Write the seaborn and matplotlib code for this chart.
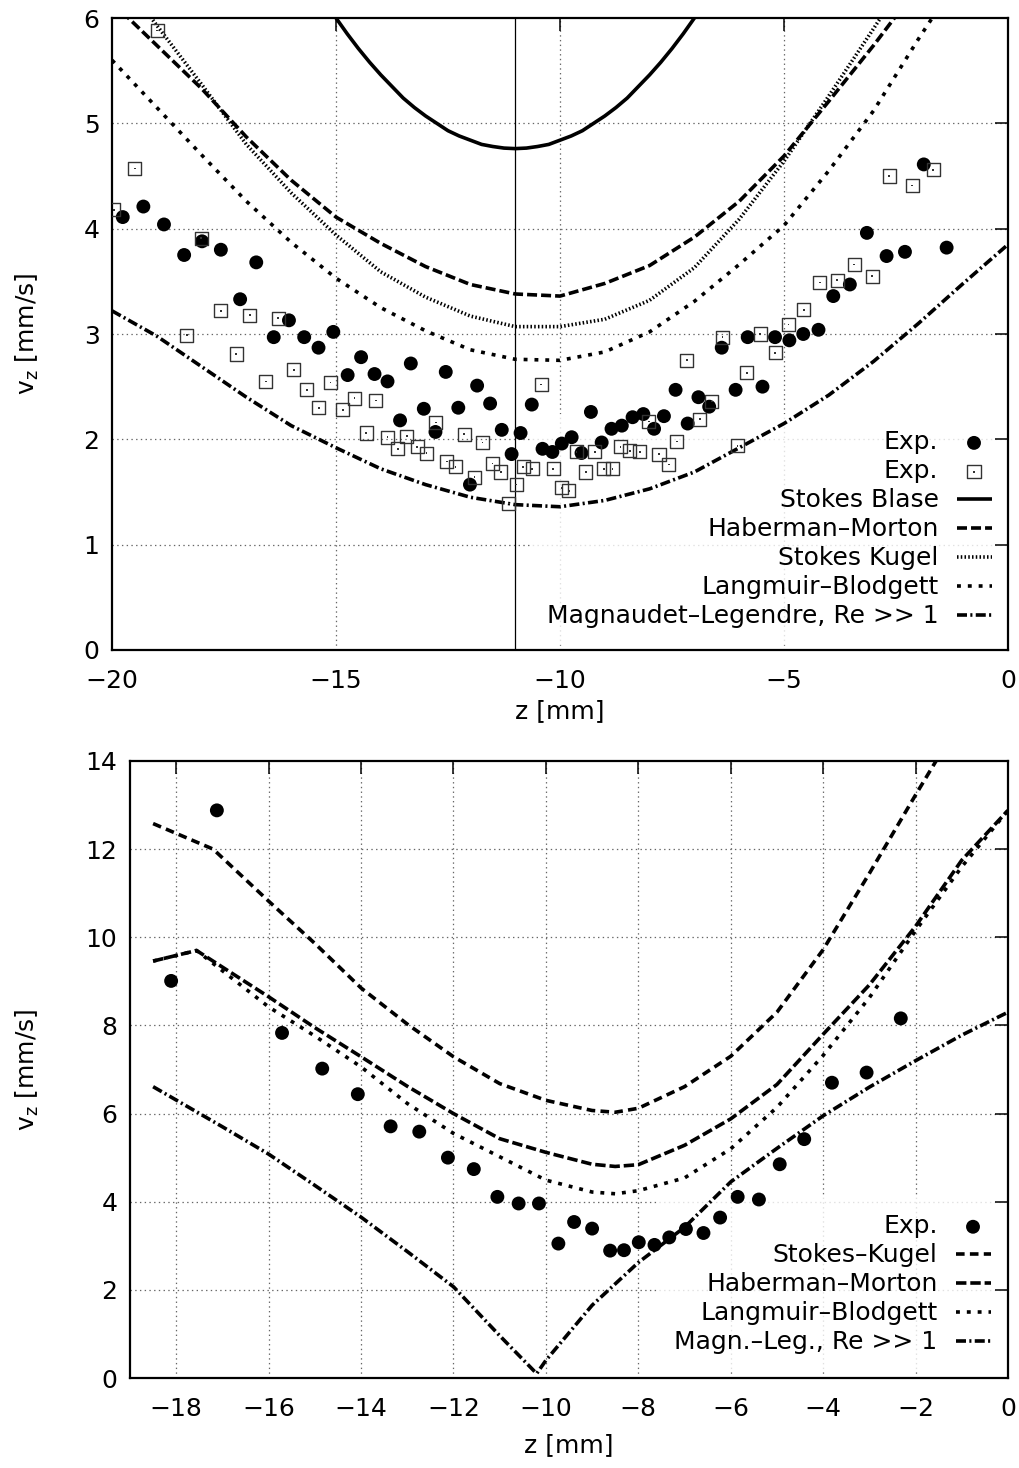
import matplotlib
matplotlib.use("Agg")
import matplotlib.pyplot as plt
import seaborn as sns

# ---------------- top panel data ----------------
top_circ_z = [-19.76, -19.30, -18.84, -18.39, -17.99, -17.57, -16.78, -17.14, -16.05, -15.06,
              -16.39, -15.71, -15.39, -14.44, -14.74, -14.14, -13.85, -13.33, -12.55, -11.85,
              -11.56, -10.63, -13.57, -13.04, -12.27, -12.78, -11.30, -10.88, -11.08, -12.01,
              -10.39, -10.17, -9.96, -9.74, -9.52, -9.31, -9.07, -8.85, -8.62, -8.38,
              -8.14, -7.90, -7.68, -7.42, -7.15, -6.91, -6.67, -6.39, -6.08, -5.81,
              -5.48, -5.20, -4.88, -4.57, -4.23, -3.90, -3.53, -3.15, -2.71, -2.30,
              -1.88, -1.37]
top_circ_v = [4.11, 4.21, 4.04, 3.75, 3.88, 3.80, 3.68, 3.33, 3.13, 3.02,
              2.97, 2.97, 2.87, 2.78, 2.61, 2.62, 2.55, 2.72, 2.64, 2.51,
              2.34, 2.33, 2.18, 2.29, 2.30, 2.07, 2.09, 2.06, 1.86, 1.57,
              1.91, 1.88, 1.96, 2.02, 1.87, 2.26, 1.97, 2.10, 2.13, 2.21,
              2.24, 2.10, 2.22, 2.47, 2.15, 2.40, 2.31, 2.87, 2.47, 2.97,
              2.50, 2.97, 2.94, 3.00, 3.04, 3.36, 3.47, 3.96, 3.74, 3.78,
              4.61, 3.82]

top_sq_z = [-18.99, -19.49, -19.96, -18.01, -17.57, -16.92, -16.29, -18.33, -17.23, -15.94,
            -16.57, -15.65, -15.12, -15.38, -14.85, -14.59, -14.11, -12.77, -14.33, -13.85,
            -13.62, -13.42, -13.19, -12.98, -12.53, -12.33, -12.14, -11.73, -11.91, -11.51,
            -11.32, -10.82, -10.62, -10.98, -11.14, -10.42, -10.15, -9.96, -9.80, -9.63,
            -9.42, -9.22, -9.02, -8.83, -8.65, -8.44, -8.22, -8.02, -7.79, -7.57,
            -7.39, -7.17, -6.88, -6.61, -6.37, -6.04, -5.83, -5.53, -5.20, -4.90,
            -4.56, -4.20, -3.81, -3.43, -3.03, -2.65, -2.14, -1.67]
top_sq_v = [5.88, 4.57, 4.18, 3.91, 3.22, 3.18, 3.15, 2.99, 2.81, 2.66,
            2.55, 2.47, 2.54, 2.30, 2.28, 2.39, 2.37, 2.16, 2.06, 2.02,
            1.91, 2.03, 1.93, 1.87, 1.79, 1.74, 2.05, 1.97, 1.64, 1.77,
            1.69, 1.74, 1.72, 1.57, 1.39, 2.52, 1.72, 1.54, 1.51, 1.88,
            1.69, 1.88, 1.72, 1.72, 1.93, 1.89, 1.88, 2.17, 1.86, 1.76,
            1.98, 2.75, 2.19, 2.36, 2.97, 1.94, 2.63, 3.00, 2.82, 3.09,
            3.23, 3.49, 3.51, 3.66, 3.55, 4.50, 4.41, 4.56]

top_curve_z = [-20, -19, -18, -17, -16, -15, -14, -13, -12, -11, -10,
               -9, -8, -7, -6, -5, -4, -3, -2, -1, 0]
top_hm_v = [6.15, 5.74, 5.33, 4.87, 4.46, 4.11, 3.86, 3.64, 3.47, 3.38, 3.36,
            3.48, 3.65, 3.92, 4.26, 4.69, 5.21, 5.74, 6.30, 6.90, 7.50]
top_sk_v = [6.50, 5.93, 5.37, 4.80, 4.34, 3.94, 3.59, 3.35, 3.17, 3.07, 3.07,
            3.14, 3.32, 3.63, 4.09, 4.64, 5.26, 5.90, 6.55, 7.20, 7.90]
top_lb_v = [5.60, 5.15, 4.70, 4.26, 3.87, 3.53, 3.25, 3.03, 2.85, 2.76, 2.75,
            2.83, 3.02, 3.31, 3.66, 4.03, 4.55, 5.12, 5.80, 6.45, 7.10]
top_ml_v = [3.22, 2.98, 2.69, 2.40, 2.13, 1.92, 1.72, 1.57, 1.45, 1.38, 1.36,
            1.42, 1.53, 1.69, 1.92, 2.15, 2.42, 2.74, 3.10, 3.48, 3.85]
top_sb_z = [-15.5, -15.25, -15, -14.75, -14.5, -14.25, -14, -13.75, -13.5, -13.25,
            -13, -12.75, -12.5, -12.25, -12, -11.75, -11.5, -11.25, -11,
            -10.75, -10.5, -10.25, -10, -9.75, -9.5, -9.25, -9, -8.75, -8.5,
            -8.25, -8, -7.75, -7.5, -7.25, -7, -6.75, -6.5]
top_sb_v = [6.33, 6.16, 6.00, 5.85, 5.71, 5.58, 5.46, 5.35, 5.24, 5.15,
            5.07, 5.00, 4.93, 4.88, 4.84, 4.80, 4.78, 4.765, 4.76,
            4.765, 4.78, 4.80, 4.84, 4.88, 4.93, 5.00, 5.07, 5.15, 5.24,
            5.35, 5.46, 5.58, 5.71, 5.85, 6.00, 6.16, 6.33]
top_marker_z = -11
top_labels = ["Exp.", "Exp.", "Stokes Blase", "Haberman\u2013Morton", "Stokes Kugel",
              "Langmuir\u2013Blodgett", "Magnaudet\u2013Legendre, Re >> 1"]

# ---------------- bottom panel data ----------------
bot_exp_z = [-18.11, -17.12, -15.71, -14.84, -14.07, -13.36, -12.74, -12.12, -11.56, -11.05,
             -10.59, -10.15, -9.73, -9.39, -9.00, -8.61, -8.31, -7.99, -7.65, -7.33,
             -6.97, -6.59, -6.23, -5.85, -5.39, -4.94, -4.41, -3.81, -3.06, -2.32]
bot_exp_v = [9.01, 12.88, 7.83, 7.02, 6.44, 5.71, 5.59, 5.00, 4.74, 4.11,
             3.96, 3.96, 3.05, 3.54, 3.39, 2.89, 2.90, 3.08, 3.02, 3.19,
             3.38, 3.29, 3.64, 4.11, 4.05, 4.85, 5.42, 6.70, 6.93, 8.16]
bot_sk_z = [-18.5, -17.2, -16, -15, -14, -13, -12, -11, -10, -9, -8.5, -8,
            -7, -6, -5, -4, -3, -2, -1.5]
bot_sk_v = [12.58, 12.00, 10.82, 9.86, 8.85, 8.03, 7.29, 6.68, 6.30, 6.07, 6.03, 6.12,
            6.61, 7.30, 8.30, 9.72, 11.45, 13.23, 14.10]
bot_hl_z = [-18.5, -17.56, -16, -15, -14, -13, -12, -11, -10, -9, -8.5, -8,
            -7, -6, -5, -4, -3, -2, -1, 0]
bot_hm_v = [9.46, 9.70, 8.65, 7.95, 7.29, 6.62, 6.00, 5.43, 5.12, 4.85, 4.80, 4.84,
            5.28, 5.88, 6.66, 7.80, 8.92, 10.25, 11.75, 12.88]
bot_lb_v = [9.46, 9.70, 8.42, 7.76, 7.06, 6.23, 5.55, 5.02, 4.49, 4.22, 4.18, 4.25,
            4.54, 5.20, 6.14, 7.32, 8.63, 10.15, 11.60, 12.88]
bot_ml_z = [-18.5, -17, -16, -15, -14, -13, -12, -11, -10.2, -10, -9, -8,
            -7, -6, -5, -4, -3, -2, -1, 0]
bot_ml_v = [6.61, 5.70, 5.08, 4.37, 3.65, 2.87, 2.07, 0.96, 0.10, 0.40, 1.65, 2.62,
            3.42, 4.45, 5.21, 5.95, 6.60, 7.20, 7.78, 8.30]
bot_labels = ["Exp.", "Stokes\u2013Kugel", "Haberman\u2013Morton", "Langmuir\u2013Blodgett",
              "Magn.\u2013Leg., Re >> 1"]

# ---------------- style ----------------
sns.set_theme(style="white")
plt.rcParams["font.family"] = ["DejaVu Sans"]
plt.rcParams["lines.scale_dashes"] = False
plt.rcParams["axes.unicode_minus"] = True
plt.rcParams["text.color"] = "black"
plt.rcParams["axes.labelcolor"] = "black"
FS = 18
LW = 2.6
LS_HM = (0, (7.2, 2.9))
LS_SK = (0, (1.1, 1.6))
LS_LB = (0, (2.8, 5.0))
LS_ML = (0, (7.2, 2.4, 1.5, 2.4))
LS_SKB = (0, (6.2, 3.8))
LS_HMB = (0, (7.5, 2.8))

fig = plt.figure(figsize=(10.19, 14.68), dpi=100)
ax1 = fig.add_axes([112 / 1019, 1 - 650 / 1468, 896 / 1019, 632 / 1468])
ax2 = fig.add_axes([130 / 1019, 1 - 1378 / 1468, 878 / 1019, 617 / 1468])


def style_axes(ax, xlim, ylim, xticks, yticks):
    ax.set_xlim(*xlim)
    ax.set_ylim(*ylim)
    ax.set_xticks(xticks)
    ax.set_yticks(yticks)
    ax.set_axisbelow(False)
    ax.tick_params(direction="in", length=9.5, width=1.1, top=True, right=True,
                   labelsize=FS, colors="black")
    ax.tick_params(axis="x", pad=13.5)
    ax.tick_params(axis="y", pad=9)
    for s in ax.spines.values():
        s.set_color("black")
        s.set_linewidth(1.6)
    for x in xticks:
        if xlim[0] < x < xlim[1]:
            ax.axvline(x, color="#666666", lw=0.9, ls=(0, (1.0, 2.4)), zorder=0.8)
    for y in yticks:
        if ylim[0] < y < ylim[1]:
            ax.axhline(y, color="#666666", lw=0.9, ls=(0, (1.0, 2.4)), zorder=0.8)


def curve(ax, z, v, ls, label, lw=LW):
    sns.lineplot(x=z, y=v, ax=ax, color="black", linewidth=lw, linestyle=ls,
                 estimator=None, sort=False, legend=False)
    ln = ax.lines[-1]
    ln.set_dash_capstyle("butt")
    ln.set_solid_capstyle("butt")
    ln.set_solid_joinstyle("round")
    ln.set_zorder(3)
    ln.set_label(label)
    return ln


def circles(ax, z, v):
    sns.scatterplot(x=z, y=v, ax=ax, marker="o", s=100, color="black",
                    edgecolor="none", linewidth=0, legend=False, zorder=4)
    return ax.collections[-1]


def squares(ax, z, v):
    sns.scatterplot(x=z, y=v, ax=ax, marker="s", s=88, facecolor="none",
                    edgecolor="#333333", linewidth=1.0, legend=False, zorder=4)
    sq = ax.collections[-1]
    sns.scatterplot(x=z, y=v, ax=ax, marker="s", s=1.5, color="#333333",
                    edgecolor="none", linewidth=0, legend=False, zorder=4)
    dot = ax.collections[-1]
    return sq, dot


def make_legend(ax, handles, labels, anchor_y, pad):
    leg = ax.legend(handles=handles, labels=labels, loc="lower right",
                    bbox_to_anchor=(1.0, anchor_y), borderaxespad=0,
                    markerfirst=False, fontsize=FS, handlelength=1.4,
                    handletextpad=0.72, labelspacing=0.2, borderpad=pad,
                    scatterpoints=1, fancybox=False, frameon=True)
    leg.get_frame().set_facecolor("white")
    leg.get_frame().set_edgecolor("none")
    leg.set_zorder(1)
    for t in leg.get_texts():
        t.set_color("black")
    return leg


# ---------------- top panel ----------------
style_axes(ax1, (-20, 0), (0, 6), [-20, -15, -10, -5, 0], [0, 1, 2, 3, 4, 5, 6])
ax1.axvline(top_marker_z, color="black", lw=0.9, zorder=2)
l_sb = curve(ax1, top_sb_z, top_sb_v, "-", top_labels[2])
l_hm = curve(ax1, top_curve_z, top_hm_v, LS_HM, top_labels[3])
l_sk = curve(ax1, top_curve_z, top_sk_v, LS_SK, top_labels[4])
l_lb = curve(ax1, top_curve_z, top_lb_v, LS_LB, top_labels[5])
l_ml = curve(ax1, top_curve_z, top_ml_v, LS_ML, top_labels[6])
c1 = circles(ax1, top_circ_z, top_circ_v)
s1 = squares(ax1, top_sq_z, top_sq_v)

make_legend(ax1, [c1, s1, l_sb, l_hm, l_sk, l_lb, l_ml], top_labels, 0.008, 0.66)

ax1.set_xlabel("z [mm]", fontsize=FS)
ax1.set_ylabel(r"v$_\mathregular{z}$ [mm/s]", fontsize=FS)
ax1.xaxis.set_label_coords(0.5, -0.078)
ax1.yaxis.set_label_coords(-0.079, 0.5)

# ---------------- bottom panel ----------------
style_axes(ax2, (-19, 0), (0, 14), [-18, -16, -14, -12, -10, -8, -6, -4, -2, 0],
           [0, 2, 4, 6, 8, 10, 12, 14])
m_sk = curve(ax2, bot_sk_z, bot_sk_v, LS_SKB, bot_labels[1])
m_hm = curve(ax2, bot_hl_z, bot_hm_v, LS_HMB, bot_labels[2])
m_lb = curve(ax2, bot_hl_z, bot_lb_v, LS_LB, bot_labels[3])
m_ml = curve(ax2, bot_ml_z, bot_ml_v, LS_ML, bot_labels[4])
c2 = circles(ax2, bot_exp_z, bot_exp_v)

make_legend(ax2, [c2, m_sk, m_hm, m_lb, m_ml], bot_labels, 0.01, 0.7)

ax2.set_xlabel("z [mm]", fontsize=FS)
ax2.set_ylabel(r"v$_\mathregular{z}$ [mm/s]", fontsize=FS)
ax2.xaxis.set_label_coords(0.5, -0.09)
ax2.yaxis.set_label_coords(-0.101, 0.5)

fig.savefig("out.png", dpi=100, facecolor="white")
